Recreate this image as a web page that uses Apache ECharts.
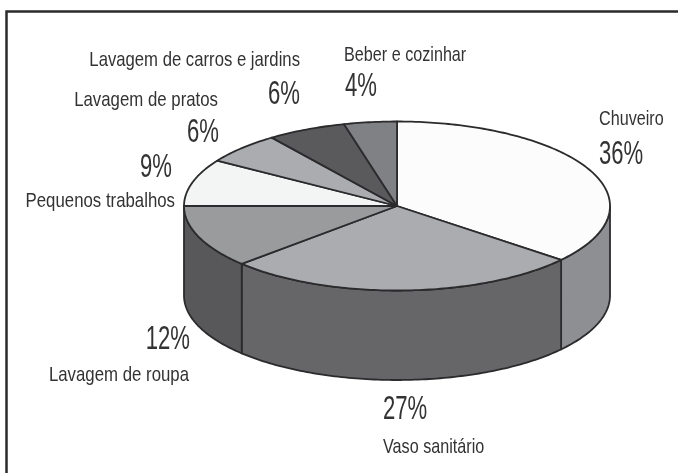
<!DOCTYPE html>
<html><head><meta charset="utf-8">
<script src="https://cdn.jsdelivr.net/npm/echarts@6/dist/echarts.min.js"></script>
<style>html,body{margin:0;padding:0;background:#fff}#c{width:678px;height:473px}</style>
</head><body><div id="c"></div>
<script>
const categories = ['Chuveiro','Vaso sanitário','Lavagem de roupa','Pequenos trabalhos','Lavagem de pratos','Lavagem de carros e jardins','Beber e cozinhar'];
const shares = [36,27,12,9,6,6,4];
const topColors = ['#fcfcfc','#abacaf','#9a9b9d','#f3f4f4','#abacaf','#5a5a5c','#808184'];
const sideColors = ['#8e8f92','#666668','#58585a','#58585a','#58585a','#58585a','#58585a'];
// layout [name x, name y, percent x, percent y]
const labelSpots = [
  [599,119,599,155],[383,447,383,410],[189,375,190,340],[175,201,172,168],[218,100,219,133],[300,60,300,95],[344,55,345,87]
];
const nameStretch = [0.77,0.77,0.8,0.8,0.8,0.795,0.77];
const cx=397, cy=206, rx=213, ry=84.5, depth=89.5;
const total = shares.reduce((a,b)=>a+b,0);
const pt = (deg,dy)=>{const r=deg*Math.PI/180;return [cx+rx*Math.sin(r), cy-ry*Math.cos(r)+(dy||0)];};
const LINE='#2b2b2d';
function arc(a,b,dy){const n=Math.max(2,Math.ceil(Math.abs(b-a)));const o=[];for(let i=0;i<=n;i++)o.push(pt(a+(b-a)*i/n,dy));return o;}
function text(x,y,t,size,sx,align){return {type:'text',z2:10,x:x,y:y,scaleX:sx,style:{text:t,fill:'#333335',font:size+'px "Liberation Sans"',align:align,verticalAlign:'middle'}};}
function renderItem(params,api){
  const i=params.dataIndex;
  const before=shares.slice(0,i).reduce((a,b)=>a+b,0);
  const a=before/total*360, b=(before+api.value(0))/total*360;
  const kids=[];
  const sa=Math.max(a,90), sb=Math.min(b,270);
  if(sb>sa){
    const top=arc(sa,sb,0), bot=arc(sa,sb,depth).reverse();
    kids.push({type:'polygon',shape:{points:top.concat(bot)},style:{fill:sideColors[i],stroke:LINE,lineWidth:1.8,lineJoin:'round'}});
  }
  kids.push({type:'polygon',shape:{points:[[cx,cy]].concat(arc(a,b,0))},z2:2,style:{fill:topColors[i],stroke:LINE,lineWidth:1.8,lineJoin:'round'}});
  const s=labelSpots[i];
  const al=(i===0||i===1||i===6)?'left':'right';
  kids.push(text(s[0],s[1],categories[i],21,nameStretch[i],al));
  kids.push(text(s[2],s[3],api.value(0)+'%',34,0.65,al));
  return {type:'group',children:kids};
}
const chart=echarts.init(document.getElementById('c'),null,{renderer:'canvas'});
chart.setOption({
  animation:false,
  graphic:[{type:'polyline',shape:{points:[[6.5,473],[6.5,11.5],[678,11.5]]},style:{fill:'none',stroke:'#2b2b2d',lineWidth:2.5},z:-1}],
  series:[{type:'custom',coordinateSystem:'none',renderItem:renderItem,data:shares.map(v=>[v]),encode:{value:0},silent:true}]
});
</script></body></html>
